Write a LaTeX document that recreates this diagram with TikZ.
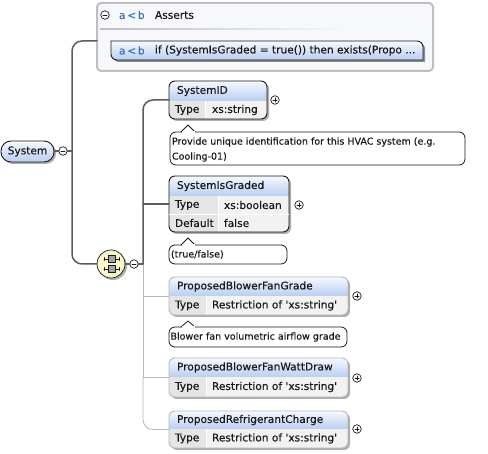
\documentclass[tikz,border=0pt]{standalone}
\usepackage{fontspec}
\setmainfont{DejaVu Sans}[RawFeature={embolden=0.35}]
\usetikzlibrary{calc}
\definecolor{SchemaInk}{gray}{0.10}
\definecolor{SchemaWire}{gray}{0.36}
\definecolor{SchemaLight}{gray}{0.72}
\definecolor{SchemaFrame}{gray}{0.75}
\definecolor{SchemaPanel}{HTML}{F7F8FC}
\definecolor{SchemaHead}{HTML}{B9CEF1}
\definecolor{SchemaHeadTop}{HTML}{F6F9FF}
\definecolor{SchemaKey}{gray}{0.90}
\definecolor{SchemaValue}{gray}{0.95}
\definecolor{SchemaShadow}{gray}{0.55}
\definecolor{SchemaBlue}{HTML}{3A72B5}
\definecolor{SchemaSeq}{HTML}{FBF8CB}
\tikzset{
    schema/diagram/.style={
        x=1pt, y=-1pt,
        font=\fontsize{10.6}{12}\selectfont,
        text=SchemaInk,
        line cap=round,
        line join=round
    },
    schema/wire/.style={draw=SchemaWire, line width=1.5pt},
    schema/optwire/.style={draw=SchemaLight, line width=0.8pt},
    schema/box/.style={
        draw=SchemaInk, line width=0.9pt, rounded corners=6pt,
        inner sep=0pt, outer sep=0pt
    },
    schema/optbox/.style={schema/box, draw=SchemaLight},
    schema/note/.style={
        draw=SchemaInk, fill=white, line width=0.8pt, rounded corners=6pt,
        inner sep=0pt, outer sep=0pt
    },
    schema/tip/.style={draw=SchemaInk, fill=white, line width=0.8pt},
    schema/toggle/.style={
        circle, draw=SchemaInk, fill=white, line width=0.7pt,
        minimum size=8.5pt, inner sep=0pt, outer sep=0pt
    },
    schema/minus/.style={schema/toggle, path picture={
        \draw[SchemaInk, line width=0.7pt] ($(path picture bounding box.center)+(-2,0)$)
            -- ($(path picture bounding box.center)+(2,0)$);
    }},
    schema/plus/.style={schema/toggle, path picture={
        \draw[SchemaInk, line width=0.7pt] ($(path picture bounding box.center)+(-2,0)$)
            -- ($(path picture bounding box.center)+(2,0)$);
        \draw[SchemaInk, line width=0.7pt] ($(path picture bounding box.center)+(0,-2)$)
            -- ($(path picture bounding box.center)+(0,2)$);
    }},
    schema/label/.style={anchor=west, inner sep=0pt, outer sep=0pt},
    schema/notetext/.style={schema/label, font=\fontsize{9.5}{15}\selectfont, align=left},
    schema/assert/.style={schema/label, text=SchemaBlue}
}
% left, top, right, bottom, head bottom, key right, style, name, title
\newcommand{\SchemaElement}[9]{
    \fill[SchemaShadow, rounded corners=6pt, opacity=0.7] (#1+2,#2+2) rectangle (#3+2,#4+2);
    \begin{scope}
        \clip[rounded corners=6pt] (#1,#2) rectangle (#3,#4);
        \fill[SchemaValue] (#1,#5) rectangle (#3,#4);
        \fill[SchemaKey] (#1,#5) rectangle (#6,#4);
        \shade[top color=SchemaHeadTop, bottom color=SchemaHead] (#1,#2) rectangle (#3,#5);
        \draw[white, line width=0.8pt] (#6,#5) -- (#6,#4);
    \end{scope}
    \node[#7, minimum width={(#3-#1)*1pt}, minimum height={(#4-#2)*1pt}]
        (#8) at ({(#1+#3)/2},{(#2+#4)/2}) {};
    \node[schema/label] (#8Title) at (#1+8,{(#2+#5)/2}) {#9};
}
\begin{document}
\begin{tikzpicture}[schema/diagram]
    \useasboundingbox (0,0) rectangle (488,454);
    \fill[white] (0,0) rectangle (488,454);

    % assert panel
    \node[draw=SchemaFrame, fill=SchemaPanel, line width=2pt, rounded corners=4pt,
        minimum width=336pt, minimum height=68pt, inner sep=0pt, outer sep=0pt]
        (assertPanel) at (265,37) {};
    \node[schema/minus] (assertMinus) at (105,15) {};
    \node[schema/assert] (assertIcon) at (119,15) {a{\,}<{\,}b};
    \node[schema/label] (assertTitle) at (155,15) {Asserts};
    \shade[left color=SchemaFrame, right color=SchemaPanel] (100,28.5) rectangle (350,30);
    \fill[SchemaShadow] (113,43) [rounded corners=6pt] -- (425,43) [sharp corners] -- (425,62)
        [rounded corners=6pt] -- (113,62) [sharp corners] -- cycle;
    \shadedraw[draw=SchemaInk, line width=0.9pt, top color=SchemaHeadTop, bottom color=SchemaHead]
        (111,41) [rounded corners=6pt] -- (423,41) [sharp corners] -- (423,60)
        [rounded corners=6pt] -- (111,60) [sharp corners] -- cycle;
    \node[schema/assert] (assertRowIcon) at (119,50.5) {a{\,}<{\,}b};
    \node[schema/label] (assertRow) at (155,50.5) {if (SystemIsGraded = true()) then exists(Propo ...};

    % root element
    \fill[SchemaShadow, rounded corners=10pt, opacity=0.7] (3,143) rectangle (56,164);
    \shadedraw[draw=SchemaInk, line width=0.9pt, top color=SchemaHeadTop, bottom color=SchemaHead,
        rounded corners=10pt] (1,141) rectangle (54,162);
    \node (system) at (27.5,151.5) {System};
    \coordinate (systemEdge) at (54,151);
    \node[schema/minus] (systemMinus) at (63,151) {};
    \coordinate (systemFork) at (72,151);
    \coordinate (assertIn) at (97,41);

    % sequence compositor
    \node[circle, fill=SchemaShadow, opacity=0.7, minimum size=28pt, inner sep=0pt] (seqShadow) at (113,266) {};
    \node[circle, draw=SchemaInk, fill=SchemaSeq, line width=0.7pt, minimum size=28pt,
        inner sep=0pt, outer sep=0pt] (seq) at (111,264) {};
    \draw[SchemaInk, line width=0.9pt] (104,259) -- (119,259) (104,269) -- (119,269);
    \draw[SchemaInk, line width=0.9pt] (104,257.5) -- (104,260.5) (104,267.5) -- (104,270.5)
        (119,257.5) -- (119,260.5) (119,267.5) -- (119,270.5);
    \foreach \y in {259,269} {
        \fill[gray!70, draw=SchemaInk, line width=0.4pt] (108,\y-3.5) rectangle (115,\y+3.5);
    }
    \node[schema/minus] (seqMinus) at (134,264) {};
    \coordinate (seqFork) at (143,264);

    % elements
    \SchemaElement{169}{81}{267}{119}{101}{205}{schema/box}{systemID}{SystemID}
    \node[schema/label] at (175,110) {Type};
    \node[schema/label] at (212,110) {xs:string};
    \node[schema/plus] (systemIDPlus) at (275,100) {};
    \node[schema/note, minimum width=295pt, minimum height=33pt] (systemIDNote) at (317.5,148.5) {};
    \draw[schema/tip] (181,132) -- (188,125) -- (195,132);
    \fill[white] (181.5,131.2) rectangle (194.5,133);
    \node[schema/notetext] at (172,149.5)
        {Provide unique identification for this HVAC system (e.g.\\Cooling-01)};

    \SchemaElement{169}{176}{289}{232}{196}{218}{schema/box}{systemIsGraded}{SystemIsGraded}
    \draw[white, line width=0.8pt] (169,214) -- (289,214);
    \node[schema/label] at (175,205) {Type};
    \node[schema/label] at (224,205) {xs:boolean};
    \node[schema/label] at (175,223) {Default};
    \node[schema/label] at (224,223) {false};
    \node[schema/plus] (systemIsGradedPlus) at (299,205) {};
    \node[schema/note, minimum width=118pt, minimum height=19pt] (systemIsGradedNote) at (228,254.5) {};
    \draw[schema/tip] (181,245) -- (188,238) -- (195,245);
    \fill[white] (181.5,244.2) rectangle (194.5,246);
    \node[schema/notetext] at (171,254.5) {(true/false)};

    \SchemaElement{169}{277}{348}{315}{296}{206}{schema/optbox}{fanGrade}{ProposedBlowerFanGrade}
    \node[schema/label] at (175,305.5) {Type};
    \node[schema/label] at (212,305.5) {Restriction of \textquotesingle xs:string\textquotesingle};
    \node[schema/plus] (fanGradePlus) at (357,296) {};
    \node[schema/note, minimum width=178pt, minimum height=20pt] (fanGradeNote) at (258,337) {};
    \draw[schema/tip] (181,327) -- (188,321) -- (195,327);
    \fill[white] (181.5,326.2) rectangle (194.5,328);
    \node[schema/notetext] at (170.5,337) {Blower fan volumetric airflow grade};

    \SchemaElement{169}{358}{348}{397}{377}{206}{schema/optbox}{wattDraw}{ProposedBlowerFanWattDraw}
    \node[schema/label] at (175,387) {Type};
    \node[schema/label] at (212,387) {Restriction of \textquotesingle xs:string\textquotesingle};
    \node[schema/plus] (wattDrawPlus) at (357,378) {};

    \SchemaElement{169}{411}{348}{448}{429}{206}{schema/optbox}{charge}{ProposedRefrigerantCharge}
    \node[schema/label] at (175,438.5) {Type};
    \node[schema/label] at (212,438.5) {Restriction of \textquotesingle xs:string\textquotesingle};
    \node[schema/plus] (chargePlus) at (357,429) {};

    % connectors
    \draw[schema/optwire] (seqFork) -- (seqFork |- fanGrade.west) -- (fanGrade.west);
    \draw[schema/optwire] (seqFork |- fanGrade.west) -- (seqFork |- wattDraw.west) -- (wattDraw.west);
    \draw[schema/optwire, rounded corners=10pt] (seqFork |- wattDraw.west) |- (charge.west);
    \draw[schema/wire, rounded corners=10pt] (assertIn) -| (systemFork) |- (seq.west);
    \draw[schema/wire] (systemEdge) -- (systemMinus);
    \draw[schema/wire] (systemMinus) -- (systemFork);
    \draw[schema/wire] (seq.east) -- (seqMinus);
    \draw[schema/wire] (seqMinus) -- (seqFork);
    \draw[schema/wire, rounded corners=10pt] (seqFork) |- (systemID.west);
    \draw[schema/wire] (systemIsGraded.west) -- (systemIsGraded.west -| seqFork);
\end{tikzpicture}
\end{document}
